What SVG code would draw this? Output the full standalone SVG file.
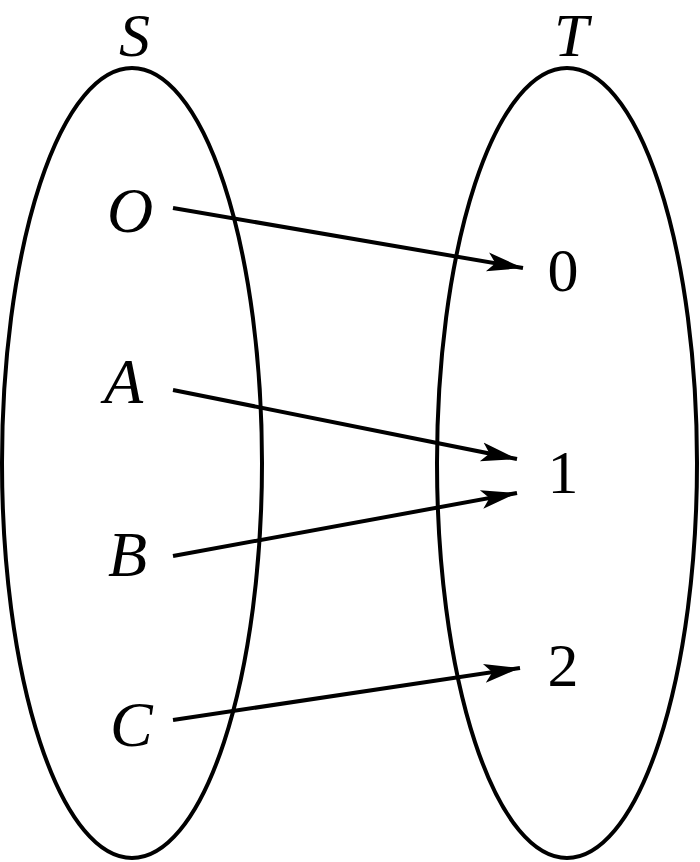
<svg xmlns="http://www.w3.org/2000/svg" width="700" height="862" viewBox="0 0 700 862">
<style>
.set{fill:none;stroke:#000;stroke-width:4}
.edge{stroke:#000;stroke-width:4;fill:none}
.lbl{font-family:'Liberation Serif','Times New Roman',serif;font-style:italic;font-size:64px;fill:#000}
.ttl{font-family:'Liberation Serif','Times New Roman',serif;font-style:italic;font-size:62px;fill:#000}
.num{font-family:'Liberation Serif','Times New Roman',serif;font-size:62px;fill:#000;text-anchor:middle}
</style>
<defs>
<marker id="arr" markerUnits="userSpaceOnUse" markerWidth="44" markerHeight="28" refX="36" refY="14" orient="auto">
<path d="M0,4.5 L36,14 L0,23.5 L8,14 Z" fill="#000"/>
</marker>
</defs>
<rect width="700" height="862" fill="#fff"/>
<g id="setS">
<ellipse class="set" cx="132" cy="463" rx="130" ry="395"/>
<text class="ttl" x="119" y="55.5">S</text>
</g>
<g id="setT">
<ellipse class="set" cx="567" cy="463" rx="130" ry="395"/>
<text class="ttl" x="554" y="55.5">T</text>
</g>
<g id="nodeO"><text class="lbl" x="107" y="232">O</text></g>
<g id="nodeA"><text class="lbl" x="104" y="403">A</text></g>
<g id="nodeB"><text class="lbl" x="108" y="576">B</text></g>
<g id="nodeC"><text class="lbl" x="110" y="746">C</text></g>
<g id="node0"><text class="num" x="563" y="291">0</text></g>
<g id="node1"><text class="num" x="563" y="493">1</text></g>
<g id="node2"><text class="num" x="563" y="686">2</text></g>
<g id="connectors">
<line class="edge" x1="173" y1="208" x2="523" y2="268" marker-end="url(#arr)"/>
<line class="edge" x1="173" y1="390" x2="517" y2="459" marker-end="url(#arr)"/>
<line class="edge" x1="173" y1="556" x2="517" y2="493" marker-end="url(#arr)"/>
<line class="edge" x1="173" y1="720" x2="520" y2="668" marker-end="url(#arr)"/>
</g>
</svg>
